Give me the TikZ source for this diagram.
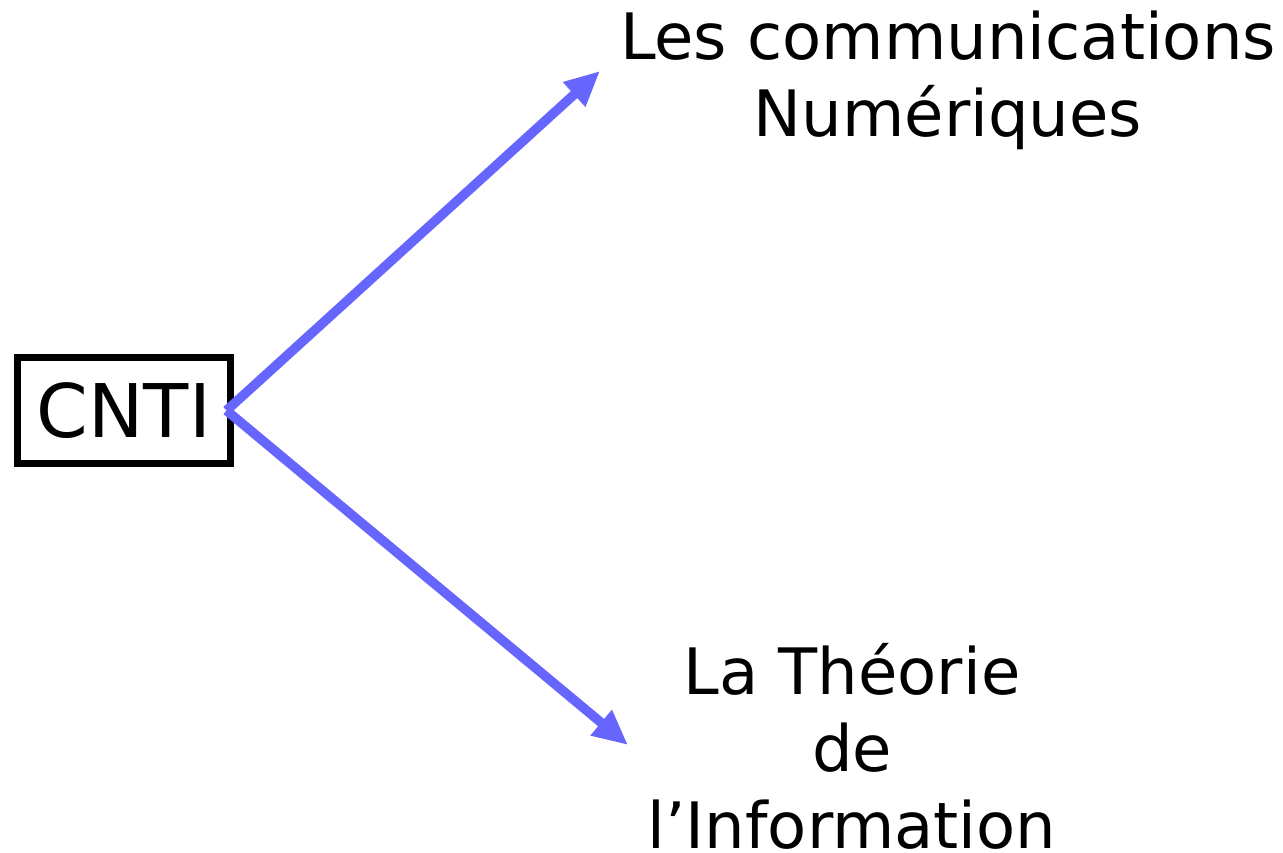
\documentclass[tikz,border=0pt]{standalone}
\usepackage{fontspec}
\setmainfont{DejaVu Sans}
\usetikzlibrary{arrows.meta}

\definecolor{arrowblue}{RGB}{102,102,255}

\tikzset{every picture/.style={line width=0.75pt},
  linkarrow/.style={draw=arrowblue, line width=9.5pt, line cap=butt,
    -{Triangle[length=35pt,width=31pt]}},
  hubbox/.style={draw=black, line width=7pt, inner sep=0pt, outer sep=0pt,
    minimum width=213pt, minimum height=106pt,
    font=\fontsize{74}{88}\selectfont},
  bigtext/.style={anchor=base, align=center, inner sep=0pt,
    font=\fontsize{64}{77}\selectfont}
}

\begin{document}
\begin{tikzpicture}[x=1pt,y=1pt,yscale=-1,xscale=1]
\useasboundingbox (0,0) rectangle (1283,852);

% Box
\node [hubbox] (cnti) at (124,410.5) {CNTI};
\coordinate (hub) at ([xshift=-4pt]cnti.east);

% Text Node (base = last line)
\node [bigtext] (comm) at (948,136) {Les communications\\Numériques};
% Text Node
\node [bigtext] (theorie) at (852,848) {La Théorie\\de\\l’Information};

% arrow tips
\coordinate (tipcomm) at (600,71);
\coordinate (tiptheo) at (628,745);

%Straight Lines
\draw [linkarrow] (hub) -- (tipcomm);
\draw [linkarrow] (hub) -- (tiptheo);

\end{tikzpicture}
\end{document}
